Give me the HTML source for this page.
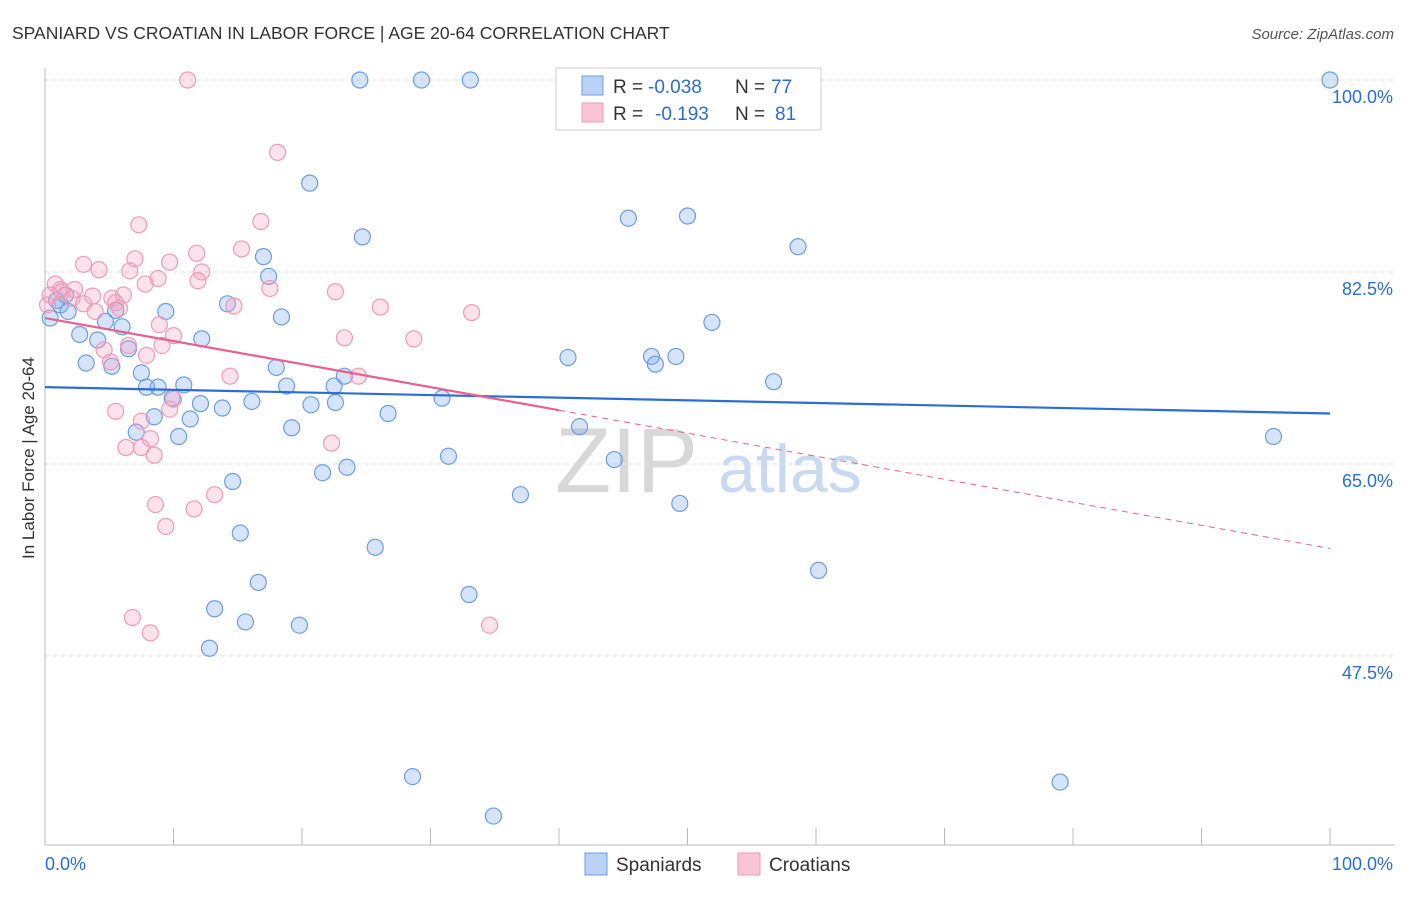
<!DOCTYPE html>
<html><head><meta charset="utf-8">
<style>
body{margin:0;background:#fff;font-family:"Liberation Sans",sans-serif;}
svg text{font-family:"Liberation Sans",sans-serif;}
</style></head>
<body>
<svg id="chart" width="1406" height="892" xmlns="http://www.w3.org/2000/svg">
<text x="12" y="39" font-size="17.5" fill="#333">SPANIARD VS CROATIAN IN LABOR FORCE | AGE 20-64 CORRELATION CHART</text>
<text x="1394" y="39" font-size="15" fill="#555" font-style="italic" text-anchor="end">Source: ZipAtlas.com</text>
<text x="34" y="458" font-size="17" fill="#333" text-anchor="middle" transform="rotate(-90 34 458)">In Labor Force | Age 20-64</text>
<text x="555" y="492" font-size="92" fill="#d8d8d8" font-family="Liberation Serif">ZIP</text>
<text x="718" y="492" font-size="68" fill="#c9d9f0">atlas</text>
<g id="grid"></g>
<g id="axes"></g>
<g id="pts"></g>
<g id="trends"></g>
<g>
<rect x="556" y="68" width="265" height="62" fill="#fff" stroke="#ccc"/>
<rect x="582" y="76" width="21" height="19" fill="#b9d2f5" stroke="#6d9de0"/>
<rect x="582" y="103" width="21" height="19" fill="#f9c5d6" stroke="#ee9ab8"/>
<text x="613" y="93" font-size="19" fill="#333">R =</text>
<text x="648" y="93" font-size="19" fill="#2a6dd4">-0.038</text>
<text x="735" y="93" font-size="19" fill="#333">N =</text>
<text x="771" y="93" font-size="19" fill="#2a6dd4">77</text>
<text x="613" y="120" font-size="19" fill="#333">R =</text>
<text x="655" y="120" font-size="19" fill="#2a6dd4">-0.193</text>
<text x="735" y="120" font-size="19" fill="#333">N =</text>
<text x="775" y="120" font-size="19" fill="#2a6dd4">81</text>
</g>
<g>
<rect x="585" y="853" width="22" height="22" fill="#b9d2f5" stroke="#6d9de0"/>
<text x="616" y="871" font-size="19" fill="#333">Spaniards</text>
<rect x="738" y="853" width="22" height="22" fill="#f9c5d6" stroke="#ee9ab8"/>
<text x="769" y="871" font-size="19" fill="#333">Croatians</text>
</g>
</svg>
<script>
const yTicks=[100,82.5,65,47.5];
const yTickLabels=["100.0%","82.5%","65.0%","47.5%"];
const xTickLabels=["0.0%","100.0%"];
const blueX=[24.5,29.3,33.1,100,20.6,45.4,50.0,24.7,58.6,17.0,17.4,9.4,18.4,51.9,4.7,6.0,2.7,4.1,6.5,12.2,40.7,47.2,47.5,49.1,3.2,5.2,18.0,7.5,8.8,10.8,7.9,23.3,22.5,18.8,56.7,30.9,16.1,22.6,12.1,13.8,20.7,9.9,26.7,8.5,11.3,7.1,10.4,19.2,41.6,95.6,31.4,44.3,23.5,21.6,14.6,37.0,49.4,15.2,25.7,60.2,16.6,33.0,13.2,15.6,19.8,12.8,28.6,79.0,34.9,0.4,1.2,1.8,0.9,14.2,5.5,1.6];
const blueY=[100,100,100,100,90.6,87.4,87.6,85.7,84.8,83.9,82.1,78.9,78.4,77.9,78.0,77.5,76.8,76.3,75.5,76.4,74.7,74.8,74.1,74.8,74.2,73.9,73.8,73.3,72.0,72.2,72.0,73.0,72.1,72.1,72.5,71.0,70.7,70.6,70.5,70.1,70.4,71.0,69.6,69.3,69.1,67.9,67.5,68.3,68.4,67.5,65.7,65.4,64.7,64.2,63.4,62.2,61.4,58.7,57.4,55.3,54.2,53.1,51.8,50.6,50.3,48.2,36.5,36.0,32.9,78.3,79.5,78.9,79.9,79.6,79.0,80.4];
const pinkX=[11.1,18.1,7.3,16.8,15.3,11.8,3.0,9.7,7.0,4.2,6.6,12.2,8.8,7.8,11.9,0.8,17.5,22.6,1.2,2.3,2.1,3.7,5.2,6.1,5.5,3.0,3.9,5.8,14.7,26.1,33.2,8.9,10.0,23.3,28.7,9.1,6.5,4.6,7.9,5.1,14.4,24.4,5.5,9.7,10.0,7.5,8.2,22.3,6.3,7.5,8.5,13.2,8.6,11.6,9.4,6.8,8.2,34.6,0.4,1.3,0.2];
const pinkY=[100,93.4,86.8,87.1,84.6,84.2,83.2,83.4,83.7,82.7,82.6,82.5,81.9,81.4,81.7,81.4,81.0,80.7,80.9,80.9,80.1,80.3,80.1,80.4,79.7,79.6,78.9,79.2,79.4,79.3,78.8,77.7,76.7,76.5,76.4,75.8,75.8,75.4,74.9,74.3,73.0,73.0,69.8,70.0,70.9,68.9,67.3,66.9,66.5,66.5,65.8,62.2,61.3,60.9,59.3,51.0,49.6,50.3,80.4,80.7,79.5];
const blueTrend=[72.0,69.6];     // value at x=0, x=100
const pinkTrend=[78.3,-0.21];    // intercept, slope
const pinkSolidEnd=40;

const NS="http://www.w3.org/2000/svg";
const X=v=>45+v*12.85;
const Y=v=>80+(100-v)*10.97;
function mk(tag,attrs,parent){const e=document.createElementNS(NS,tag);for(const k in attrs)e.setAttribute(k,attrs[k]);parent.appendChild(e);return e;}
const grid=document.getElementById('grid'),axes=document.getElementById('axes'),pts=document.getElementById('pts'),tr=document.getElementById('trends');
yTicks.forEach((t,i)=>{
  const l=mk('line',{x1:45,x2:1395,y1:Y(t),y2:Y(t),stroke:'#ddd','stroke-dasharray':'4,4'},grid);
  
  
  const tx=mk('text',{x:1393,y:Y(t)+23,'font-size':18,fill:'#2a6dd4','text-anchor':'end'},axes);
  tx.textContent=yTickLabels[i];
  
  
});
const ya=mk('line',{x1:45,x2:45,y1:68,y2:845,stroke:'#bbb'},axes);


const xa=mk('line',{x1:45,x2:1395,y1:845,y2:845,stroke:'#bbb'},axes);


for(let i=0;i<=10;i++){
  const t=mk('line',{x1:X(i*10),x2:X(i*10),y1:828,y2:845,stroke:'#bbb'},axes);
  
  
}
[[0,'start',45],[100,'end',1393]].forEach((d,i)=>{
  const tx=mk('text',{x:d[2],y:870,'font-size':18,fill:'#2a6dd4','text-anchor':d[1]},axes);
  tx.textContent=xTickLabels[i];
  
  
});
blueX.forEach((x,i)=>{
  const c=mk('circle',{cx:X(x),cy:Y(blueY[i]),r:8,fill:'rgba(120,165,235,0.3)',stroke:'#6d9de0','stroke-width':1.2},pts);
  
  
});
pinkX.forEach((x,i)=>{
  const c=mk('circle',{cx:X(x),cy:Y(pinkY[i]),r:8,fill:'rgba(245,160,190,0.3)',stroke:'#ee9ab8','stroke-width':1.2},pts);
  
  
});
const bl=mk('line',{x1:X(0),y1:Y(blueTrend[0]),x2:X(100),y2:Y(blueTrend[1]),stroke:'#2a6dd4','stroke-width':2.2},tr);


const pv=x=>pinkTrend[0]+pinkTrend[1]*x;
const pl=mk('line',{x1:X(0),y1:Y(pv(0)),x2:X(pinkSolidEnd),y2:Y(pv(pinkSolidEnd)),stroke:'#e8608e','stroke-width':2.2},tr);


const pd=mk('line',{x1:X(pinkSolidEnd),y1:Y(pv(pinkSolidEnd)),x2:X(100),y2:Y(pv(100)),stroke:'#e8608e','stroke-width':1,'stroke-dasharray':'6,5'},tr);


</script>
</body></html>
